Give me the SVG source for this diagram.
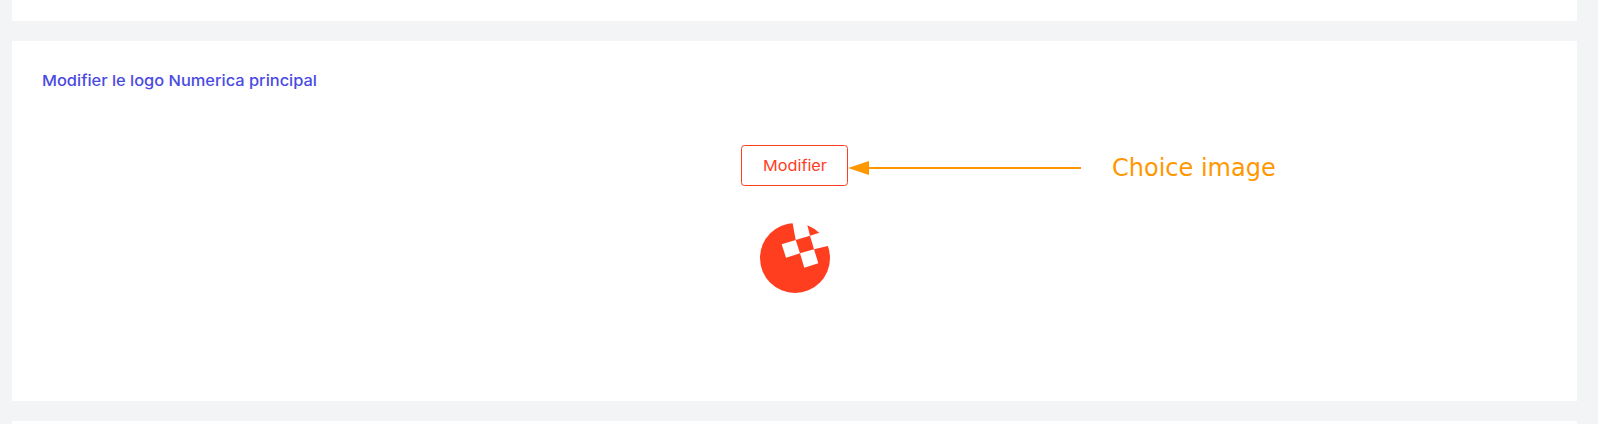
<svg xmlns="http://www.w3.org/2000/svg" width="1598" height="424" viewBox="0 0 1598 424">
<style>
.panel{fill:#ffffff}
.title{font-family:"Inter","Liberation Sans",sans-serif;font-size:15px;font-weight:500;fill:#4a4ae2}
.btn{fill:#ffffff;stroke:#ff3d1f;stroke-width:1}
.btnt{font-family:"Inter","Liberation Sans",sans-serif;font-size:15px;font-weight:400;fill:#ff3d1f}
.note{font-family:"DejaVu Sans",sans-serif;font-size:24px;fill:#ff9800}
.wire{stroke:#ff9800;stroke-width:2;fill:none}
.cut{fill:#ffffff}
.head{fill:#ff9800}
</style>
<rect width="1598" height="424" fill="#f3f4f6"/>
<g id="panel-top"><rect class="panel" x="12" y="0" width="1565" height="21"/></g>
<g id="panel-main"><rect class="panel" x="12" y="41" width="1565" height="360"/>
<text class="title" x="42" y="86" textLength="275" lengthAdjust="spacingAndGlyphs">Modifier le logo Numerica principal</text></g>
<g id="panel-bottom"><rect class="panel" x="12" y="421" width="1565" height="3"/></g>
<g id="button-modifier"><rect class="btn" x="741.5" y="145.5" width="106" height="40" rx="3"/>
<text class="btnt" x="763" y="171" textLength="64" lengthAdjust="spacingAndGlyphs">Modifier</text></g>
<g id="logo">
<circle cx="795" cy="258" r="35" fill="#ff3d1f"/>
<polygon class="cut" points="781.7,244.3 795.7,240 800,253.3 786,257.7"/>
<polygon class="cut" points="800,253.3 814,249.3 818.3,263.3 804.3,267.7"/>
<polygon class="cut" points="795.7,240 810,235.7 806,220 792,220"/>
<polygon class="cut" points="810,235.7 824,231.3 832,245 814,249.3"/>
</g>
<g id="label-choice"><text class="note" x="1112" y="176">Choice image</text></g>
<g id="connectors"><line class="wire" x1="1081" y1="168" x2="869" y2="168"/><polygon class="head" points="848,168 869,161 869,175"/></g>
</svg>
